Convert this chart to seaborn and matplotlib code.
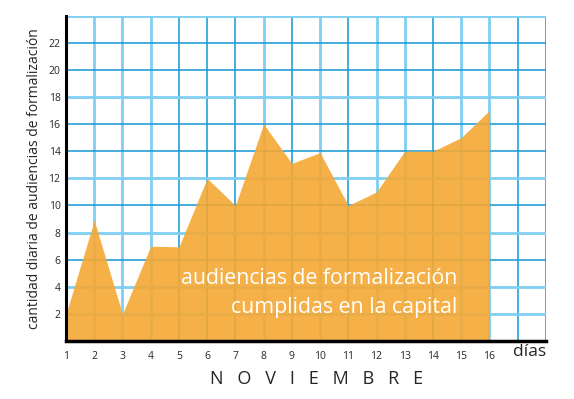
import matplotlib
matplotlib.use("Agg")
import seaborn as sns
import matplotlib.pyplot as plt
import numpy as np
import pandas as pd

# data
dias = [1, 2, 3, 4, 5, 6, 7, 8, 9, 10, 11, 12, 13, 14, 15, 16]
audiencias = [2, 8.9, 2, 7, 6.95, 12, 10, 16, 13.1, 13.9, 10, 11, 14, 14, 15, 17]
y_ticks = [2, 4, 6, 8, 10, 12, 14, 16, 18, 20, 22]

# grid line shades (light / dark) as in the original
v_grid = {2: 'L', 3: 'L', 4: 'L', 5: 'D', 6: 'D', 7: 'D', 8: 'L', 9: 'D', 10: 'L',
          11: 'D', 12: 'L', 13: 'L', 14: 'D', 15: 'L', 16: 'L', 17: 'D', 18: 'D'}
h_grid = {2: 'L', 4: 'L', 6: 'D', 8: 'L', 10: 'D', 12: 'L', 14: 'D', 16: 'D',
          18: 'L', 20: 'D', 22: 'D', 24: 'L'}

df = pd.DataFrame({'dia': dias, 'audiencias': audiencias})

sns.set_style("white")
plt.rcParams['font.family'] = ['Open Sans', 'DejaVu Sans']

fig = plt.figure(figsize=(5.74, 3.99), dpi=100)
ax = fig.add_axes([0.115, 0.145, 0.836, 0.816])

light = '#80cff2'
dark = '#1597d5'
for x, c in v_grid.items():
    ax.axvline(x, color=light if c == 'L' else dark,
               lw=2.0 if c == 'L' else 1.1, zorder=1)
for y, c in h_grid.items():
    ax.axhline(y, color=light if c == 'L' else dark,
               lw=2.0 if c == 'L' else 1.1, zorder=1)

ax.fill_between(df['dia'], df['audiencias'], 0, color='#f4a834', alpha=0.9,
                lw=0, zorder=2)
sns.lineplot(data=df, x='dia', y='audiencias', ax=ax, lw=0, zorder=2)

ax.set_xlim(1, 18)
ax.set_ylim(0, 24)
ax.set_xticks(dias)
ax.set_xticklabels([str(d) for d in dias], fontsize=7.5)
ax.set_yticks(y_ticks)
ax.set_yticklabels([str(v) for v in y_ticks], fontsize=7.5)
ax.tick_params(axis='x', length=0, pad=7)
ax.tick_params(axis='y', length=0, pad=4)
ax.set_xlabel('')
ax.set_ylabel('cantidad diaria de audiencias de formalización', fontsize=10)
ax.yaxis.label.set_va('center')
ax.yaxis.set_label_coords(-0.066, 0.5)

for s in ['top', 'right']:
    ax.spines[s].set_visible(False)
ax.spines['left'].set_color('black')
ax.spines['left'].set_linewidth(2.2)
ax.spines['bottom'].set_color('black')
ax.spines['bottom'].set_linewidth(2.5)
ax.spines['left'].set_zorder(5)
ax.spines['bottom'].set_zorder(5)

ax.text(14.88, 4.2, 'audiencias de formalización', color='white', fontsize=15.3,
        ha='right', va='baseline', zorder=4)
ax.text(14.88, 2.1, 'cumplidas en la capital', color='white', fontsize=15.3,
        ha='right', va='baseline', zorder=4)

fig.text(0.923, 0.117, 'días', fontsize=12.5, ha='center', va='center')
fig.text(0.551, 0.05, 'N   O   V   I   E   M   B   R   E', fontsize=13,
         ha='center', va='center')

fig.savefig('out.png', dpi=100)
